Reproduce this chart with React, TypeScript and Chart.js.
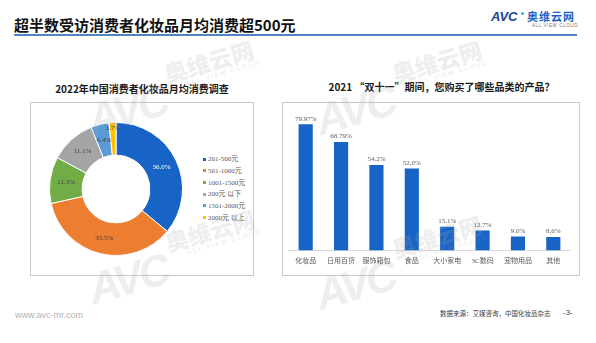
import React, { useEffect, useRef } from "react";
import { Chart, registerables } from "chart.js";

Chart.register(...registerables);

// ---- Data ----
const pageTitle = "超半数受访消费者化妆品月均消费超500元";
const donutTitle = "2022年中国消费者化妆品月均消费调查";
const donutLabels = ["201-500元", "501-1000元", "1001-1500元", "200元 以下", "1501-2000元", "2000元 以上"];
const donutValues = [36.0, 35.5, 11.3, 11.1, 4.4, 1.7];
const donutColors = ["#1763C6", "#ED7D31", "#70AD47", "#A5A5A5", "#5B9BD5", "#FFC000"];

const barTitle = "2021 “双十一”期间，您购买了哪些品类的产品？";
const barCategories = ["化妆品", "日用百货", "服饰箱包", "食品", "大小家电", "3C数码", "宠物用品", "其他"];
const barValues = [79.97, 68.79, 54.2, 52.0, 15.1, 12.7, 9.0, 8.6];
const barValueLabels = ["79.97%", "68.79%", "54.2%", "52.0%", "15.1%", "12.7%", "9.0%", "8.6%"];

const footerUrl = "www.avc-mr.com";
const footerSource = "数据来源：艾媒咨询，中国化妆品杂志";
const footerPage = "-3-";

const SERIF = "'Liberation Serif', 'Noto Sans CJK SC', serif";
const SANS = "'Noto Sans CJK SC', 'Liberation Sans', sans-serif";

function DonutChart() {
  const ref = useRef<HTMLCanvasElement | null>(null);
  useEffect(() => {
    if (!ref.current) return;
    const labelPlugin = {
      id: "donutLabels",
      afterDatasetsDraw(chart: any) {
        const ctx = chart.ctx;
        const meta = chart.getDatasetMeta(0);
        ctx.save();
        ctx.font = "7px " + SERIF;
        ctx.textAlign = "center";
        ctx.textBaseline = "middle";
        meta.data.forEach((arc: any, i: number) => {
          const { x, y, startAngle, endAngle, innerRadius, outerRadius } = arc.getProps(
            ["x", "y", "startAngle", "endAngle", "innerRadius", "outerRadius"],
            true
          );
          const mid = (startAngle + endAngle) / 2;
          // thin slices: push label toward the outer rim so neighbours don't collide
          const k = donutValues[i] < 3 ? 0.82 : 0.5;
          const r = innerRadius + (outerRadius - innerRadius) * k;
          ctx.fillStyle = i === 0 ? "#ffffff" : "#404040";
          ctx.fillText(donutValues[i].toFixed(1) + "%", x + Math.cos(mid) * r, y + Math.sin(mid) * r);
        });
        ctx.restore();
      },
    };
    const chart = new Chart(ref.current, {
      type: "doughnut",
      data: {
        labels: donutLabels,
        datasets: [
          {
            data: donutValues,
            backgroundColor: donutColors,
            borderColor: "#ffffff",
            borderWidth: 1,
          },
        ],
      },
      options: {
        responsive: false,
        animation: false,
        cutout: "51%",
        layout: { padding: 0 },
        plugins: { legend: { display: false }, tooltip: { enabled: false } },
      },
      plugins: [labelPlugin],
    });
    return () => chart.destroy();
  }, []);
  return (
    <canvas
      ref={ref}
      width={134}
      height={134}
      style={{ position: "absolute", left: 49, top: 122, width: 134, height: 134 }}
    />
  );
}

function BarChart() {
  const ref = useRef<HTMLCanvasElement | null>(null);
  useEffect(() => {
    if (!ref.current) return;
    const labelPlugin = {
      id: "barLabels",
      afterDatasetsDraw(chart: any) {
        const ctx = chart.ctx;
        const meta = chart.getDatasetMeta(0);
        ctx.save();
        ctx.font = "7px " + SERIF;
        ctx.fillStyle = "#595959";
        ctx.textAlign = "center";
        ctx.textBaseline = "bottom";
        meta.data.forEach((bar: any, i: number) => {
          ctx.fillText(barValueLabels[i], bar.x, bar.y - 2);
        });
        ctx.restore();
      },
    };
    const chart = new Chart(ref.current, {
      type: "bar",
      data: {
        labels: barCategories,
        datasets: [
          {
            data: barValues,
            backgroundColor: "#1763C6",
            categoryPercentage: 1,
            barPercentage: 0.4,
          },
        ],
      },
      options: {
        responsive: false,
        animation: false,
        layout: { padding: { top: 4.5, left: 0, right: 0, bottom: 0 } },
        plugins: { legend: { display: false }, tooltip: { enabled: false } },
        scales: {
          y: { display: false, min: 0, max: 90 },
          x: {
            grid: { display: false, drawTicks: false },
            border: { display: true, color: "#d9d9d9" },
            ticks: { font: { size: 7, family: SERIF }, color: "#595959", padding: 6, maxRotation: 0, autoSkip: false },
          },
        },
      },
      plugins: [labelPlugin],
    });
    return () => chart.destroy();
  }, []);
  return (
    <canvas
      ref={ref}
      width={283}
      height={167}
      style={{ position: "absolute", left: 288, top: 104, width: 283, height: 167 }}
    />
  );
}

// Watermark anchored at the centre of its "奥维云网" word
function Watermark({ x, y }: { x: number; y: number }) {
  const c = "rgba(170,170,170,0.2)";
  const base: React.CSSProperties = {
    position: "absolute",
    whiteSpace: "nowrap",
    pointerEvents: "none",
    color: c,
    transform: "translate(-50%, -50%) rotate(-16deg)",
  };
  return (
    <>
      <div
        style={{
          ...base,
          left: x - 82,
          top: y + 49,
          fontFamily: "'Liberation Sans', sans-serif",
          fontWeight: 900,
          fontStyle: "italic",
          fontSize: 44,
          letterSpacing: -3,
          lineHeight: "44px",
        }}
      >
        AVC
      </div>
      <div style={{ ...base, left: x, top: y, fontFamily: SANS, fontWeight: 900, fontSize: 23, lineHeight: "26px" }}>奥维云网</div>
      <div
        style={{
          ...base,
          left: x + 14,
          top: y + 12,
          fontFamily: "'Liberation Sans', sans-serif",
          fontWeight: 700,
          fontSize: 6.5,
          letterSpacing: 1.5,
          lineHeight: "8px",
        }}
      >
        ALL VIEW CLOUD
      </div>
    </>
  );
}

export default function App() {
  return (
    <div
      style={{
        position: "fixed",
        left: 0,
        top: 0,
        width: 596,
        height: 343,
        background: "#ffffff",
        overflow: "hidden",
        fontFamily: SANS,
      }}
    >
      {/* Header */}
      <div
        style={{
          position: "absolute",
          left: 14,
          top: 17,
          fontSize: 15,
          lineHeight: "16px",
          fontWeight: 700,
          color: "#111111",
          whiteSpace: "nowrap",
          fontFamily: SANS,
        }}
      >
        {pageTitle}
      </div>
      <div style={{ position: "absolute", left: 14, top: 34, width: 563, height: 2, background: "#4f86c0" }} />
      {/* Logo */}
      <div
        style={{
          position: "absolute",
          left: 491,
          top: 10,
          fontFamily: "'Liberation Sans', sans-serif",
          fontWeight: 900,
          fontStyle: "italic",
          fontSize: 13,
          lineHeight: "14px",
          color: "#1b3f8f",
          whiteSpace: "nowrap",
        }}
      >
        AVC
      </div>
      <div style={{ position: "absolute", left: 521, top: 12, width: 3, height: 3, borderRadius: 2, background: "#22b3e6" }} />
      <div
        style={{
          position: "absolute",
          left: 527,
          top: 10,
          fontFamily: SANS,
          fontWeight: 700,
          fontSize: 11,
          lineHeight: "12px",
          letterSpacing: 1,
          color: "#1e64c8",
          whiteSpace: "nowrap",
        }}
      >
        奥维云网
      </div>
      <div
        style={{
          position: "absolute",
          left: 532,
          top: 23,
          fontFamily: "'Liberation Sans', sans-serif",
          fontSize: 4.5,
          lineHeight: "5px",
          letterSpacing: 0.6,
          color: "#777",
          whiteSpace: "nowrap",
        }}
      >
        ALL VIEW CLOUD
      </div>

      {/* Left panel */}
      <div
        style={{
          position: "absolute",
          left: 30,
          top: 83,
          width: 224,
          textAlign: "center",
          fontSize: 10,
          lineHeight: "12px",
          fontWeight: 700,
          color: "#1a1a1a",
          whiteSpace: "nowrap",
        }}
      >
        {donutTitle}
      </div>
      <div
        style={{
          position: "absolute",
          left: 30,
          top: 102,
          width: 222,
          height: 172,
          border: "1px solid #c9c9c9",
        }}
      />
      <DonutChart />
      {donutLabels.map((lab, i) => (
        <div key={lab} style={{ position: "absolute", left: 203, top: 159.3 + i * 11.65 - 5, height: 10, display: "flex", alignItems: "center", whiteSpace: "nowrap" }}>
          <span style={{ width: 3, height: 3, background: donutColors[i], display: "inline-block", marginRight: 2 }} />
          <span style={{ fontFamily: SERIF, fontSize: 7, lineHeight: "10px", color: "#595959" }}>{lab}</span>
        </div>
      ))}

      {/* Right panel */}
      <div
        style={{
          position: "absolute",
          left: 441.5,
          top: 81,
          transform: "translateX(-50%)",
          fontSize: 10,
          lineHeight: "12px",
          fontWeight: 700,
          color: "#1a1a1a",
          whiteSpace: "nowrap",
        }}
      >
        {barTitle}
      </div>
      <div
        style={{
          position: "absolute",
          left: 282,
          top: 102,
          width: 296,
          height: 172,
          border: "1px solid #c9c9c9",
        }}
      />
      <BarChart />

      {/* Footer */}
      <div style={{ position: "absolute", left: 15, top: 309, fontFamily: "'Liberation Sans', sans-serif", fontSize: 9, lineHeight: "12px", color: "#b3b3b3", whiteSpace: "nowrap" }}>
        {footerUrl}
      </div>
      <div style={{ position: "absolute", left: 440, top: 309, fontFamily: SANS, fontSize: 6.5, lineHeight: "8px", color: "#404040", whiteSpace: "nowrap" }}>
        {footerSource}
      </div>
      <div style={{ position: "absolute", left: 563, top: 308, fontFamily: "'Liberation Sans', sans-serif", fontSize: 8, lineHeight: "10px", color: "#404040", whiteSpace: "nowrap" }}>
        {footerPage}
      </div>

      {/* Watermarks */}
      <Watermark x={209} y={61} />
      <Watermark x={437} y={61} />
      <Watermark x={210} y={230} />
      <Watermark x={437} y={236} />
    </div>
  );
}
